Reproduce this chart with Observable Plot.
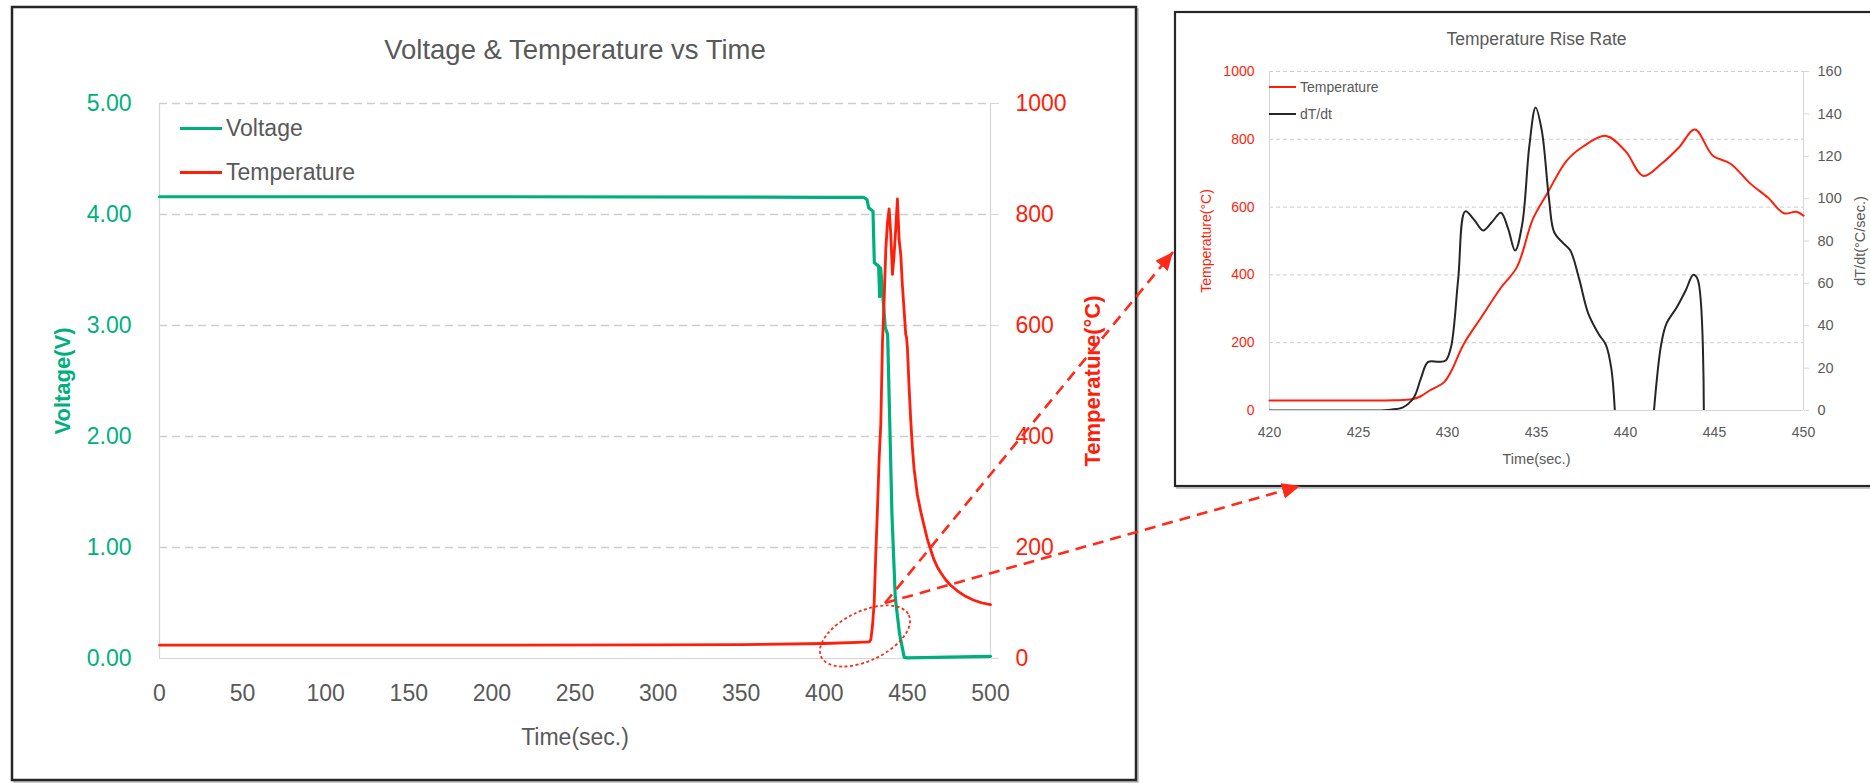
<!DOCTYPE html>
<html><head><meta charset="utf-8">
<script src="https://cdn.jsdelivr.net/npm/d3@7"></script>
<script src="https://cdn.jsdelivr.net/npm/@observablehq/plot@0.6"></script>
<style>
html,body{margin:0;padding:0;background:#fff;}
#root{position:relative;width:1870px;height:783px;overflow:hidden;font-family:"Liberation Sans",Arial,Helvetica,sans-serif;}
#main,#inset{position:absolute;top:0;}
#main{left:0;}
#inset{left:1160px;}
#overlay{position:absolute;left:0;top:0;pointer-events:none;}
.leg{position:absolute;display:flex;align-items:center;color:#595959;white-space:nowrap;}
.sw{display:inline-block;}
</style></head><body>
<div id="root">
  <svg id="frames" width="1870" height="783" style="position:absolute;left:0;top:0">
    <rect x="14" y="9" width="1124" height="773" fill="none" stroke="#b5b5b5" stroke-width="1.5"/>
    <rect x="12" y="7" width="1124" height="773" fill="#fff" stroke="#262626" stroke-width="2.5"/>
    <rect x="1177" y="14" width="720" height="474" fill="none" stroke="#b5b5b5" stroke-width="1.5"/>
    <rect x="1175" y="12" width="720" height="474" fill="#fff" stroke="#262626" stroke-width="2.2"/>
  </svg>
  <div id="main"></div>
  <div id="inset"></div>
  <div class="leg" style="left:180px;top:113px;height:30px;font-size:23px;"><span class="sw" style="width:42px;height:3px;background:#00b07c;margin-right:4px"></span>Voltage</div>
  <div class="leg" style="left:180px;top:157px;height:30px;font-size:23px;"><span class="sw" style="width:42px;height:3px;background:#ff1e0a;margin-right:4px"></span>Temperature</div>
  <div class="leg" style="left:1269px;top:78px;height:18px;font-size:14px;"><span class="sw" style="width:27px;height:2px;background:#ff1e0a;margin-right:4px"></span>Temperature</div>
  <div class="leg" style="left:1269px;top:105px;height:18px;font-size:14px;"><span class="sw" style="width:27px;height:2px;background:#262626;margin-right:4px"></span>dT/dt</div>
  <svg id="overlay" width="1870" height="783">
    <defs>
      <marker id="ah" markerUnits="userSpaceOnUse" markerWidth="20" markerHeight="18" refX="18" refY="8" orient="auto">
        <path d="M0,0 L18,8 L0,16 Z" fill="#ff2a1a"/>
      </marker>
    </defs>
    <ellipse cx="865" cy="636" rx="48.5" ry="24.7" transform="rotate(-25.5 865 636)" fill="none" stroke="#ff2a1a" stroke-width="1.8" stroke-dasharray="3,2.5"/>
    <line x1="885" y1="603" x2="1173" y2="252" stroke="#ff2a1a" stroke-width="2.6" stroke-dasharray="11,7" marker-end="url(#ah)"/>
    <line x1="885" y1="603" x2="1300" y2="486" stroke="#ff2a1a" stroke-width="2.6" stroke-dasharray="11,7" marker-end="url(#ah)"/>
  </svg>
</div>
<script>
// ---------- data ----------
const timeTicks = [0, 50, 100, 150, 200, 250, 300, 350, 400, 450, 500];
const voltTicks = [0, 1, 2, 3, 4, 5];
const tempTicksMain = [0, 200, 400, 600, 800, 1000];

const voltTime = [0, 200, 400, 423.7, 425.7, 426.7, 429.3, 430.1, 432.7, 433.3, 433.9, 436.7, 438.1, 439.3, 440.7, 442.7, 445.3, 448.1, 450, 500];
const voltage  = [4.16, 4.16, 4.155, 4.155, 4.135, 4.06, 4.03, 3.565, 3.535, 3.26, 3.52, 2.98, 2.92, 2.18, 1.30, 0.55, 0.22, 0.01, 0.005, 0.02];

const tempTime = [0, 100, 200, 300, 350, 400, 420, 427, 428, 429, 430, 431, 432, 433, 434, 435, 436, 437, 438, 439, 440, 441, 442, 443, 444, 445, 446, 447, 448, 449, 449.5, 450, 451, 452, 453, 454, 456, 458, 460, 462, 464, 466, 468, 470, 473, 476, 480, 485, 490, 495, 500];
const temperature = [24, 24, 24, 24.5, 25, 27, 29, 30, 34, 59, 100, 190, 270, 360, 423, 570, 645, 737, 785, 810, 765, 692, 727, 775, 828, 755, 728, 672, 628, 584, 578, 560, 490, 430, 380, 342, 295, 265, 240, 215, 196, 178, 165, 155, 142, 132, 122, 112, 105, 100, 97];

const insetTimeTicks = [420, 425, 430, 435, 440, 445, 450];
const insetTempTicks = [0, 200, 400, 600, 800, 1000];
const rateTicks = [0, 20, 40, 60, 80, 100, 120, 140, 160];

const insetTime = [420, 422, 424, 426, 427, 428, 428.5, 429, 429.8, 430.2, 430.9, 431.9, 433, 433.9, 434.8, 435.6, 436.7, 437.6, 438.9, 440, 441, 442, 443, 443.9, 444.9, 445.9, 447, 448, 448.9, 449.6, 450];
const insetTemp = [29.5, 29.5, 29.5, 29.5, 30, 33, 42, 59, 83, 115, 195, 275, 362, 423, 565, 640, 737, 778, 810, 765, 692, 727, 776, 829, 752, 728, 670, 628, 582, 586, 575];

const rateTime = [420, 422, 424, 426, 426.8, 427.5, 428.1, 428.5, 428.9, 429.5, 429.9, 430.2, 430.6, 431.0, 431.5, 432.0, 432.5, 433.0, 433.4, 433.8, 434.2, 434.6, 434.95, 435.3, 435.7, 436.0, 436.5, 436.9, 437.4, 437.9, 438.5, 438.9, 439.2, 439.4, 440.5, 441.6, 442.0, 442.3, 442.9, 443.4, 443.8, 444.05, 444.4];
const rate = [0, 0, 0, 0, 0.4, 1.5, 6, 15, 22.8, 23, 23.6, 30, 62, 94, 90, 85, 89, 93.3, 86, 75.5, 88, 125, 143, 132, 100, 84, 79, 75.5, 62, 46, 36, 31, 20, 0, null, 0, 31, 41, 49, 57, 64, 62, 0];

// ---------- style ----------
const FONT = "'Liberation Sans', Arial, Helvetica, sans-serif";
const GREEN = "#00b07c", RED = "#ff1e0a", GRAY = "#595959", GRID = "#cdcdcd", AXIS = "#d6d6d6", DARK = "#262626";

// secondary axes mapped onto primary scales
const tempPerVolt = 1000 / 5;
const tempPerRate = 1000 / 160;

const voltRows = voltTime.map((t, i) => ({t, y: voltage[i]}));
const tempRows = tempTime.map((t, i) => ({t, y: temperature[i] / tempPerVolt}));
const insetTempRows = insetTime.map((t, i) => ({t, y: insetTemp[i]}));
const rateRows = rateTime.map((t, i) => ({t, y: rate[i] == null ? NaN : rate[i] * tempPerRate}));

const main = Plot.plot({
  width: 1140, height: 783,
  marginLeft: 159, marginRight: 150, marginTop: 103, marginBottom: 125,
  x: {domain: [0, 500]},
  y: {domain: [0, 5]},
  style: {fontFamily: FONT, background: "transparent", overflow: "visible"},
  marks: [
    Plot.gridY([1, 2, 3, 4, 5], {stroke: GRID, strokeOpacity: 1, strokeWidth: 1.3, strokeDasharray: "8,5"}),
    Plot.ruleX([0, 500], {stroke: AXIS, strokeWidth: 1.2}),
    Plot.ruleY([0], {stroke: AXIS, strokeWidth: 1.2}),
    Plot.axisX({ticks: timeTicks, tickSize: 0, tickPadding: 26, fontSize: 23, fill: GRAY, tickFormat: d => String(d), label: null}),
    Plot.axisY({anchor: "left", ticks: voltTicks, tickSize: 0, tickPadding: 28, fontSize: 23, fill: GREEN, tickFormat: d3.format(".2f"), label: null}),
    Plot.axisY({anchor: "right", ticks: tempTicksMain.map(d => d / tempPerVolt), tickSize: 8, tickPadding: 17, fontSize: 23, fill: RED, stroke: AXIS, tickFormat: d => String(Math.round(d * tempPerVolt)), label: null}),
    Plot.line(voltRows, {x: "t", y: "y", stroke: GREEN, strokeWidth: 3.2}),
    Plot.line(tempRows, {x: "t", y: "y", stroke: RED, strokeWidth: 2.8}),
    Plot.text(["Voltage & Temperature vs Time"], {text: d => d, frameAnchor: "top", dy: -53, lineAnchor: "middle", textAnchor: "middle", fontSize: 27.5, fill: GRAY}),
    Plot.text(["Time(sec.)"], {text: d => d, frameAnchor: "bottom", dy: 79, lineAnchor: "middle", textAnchor: "middle", fontSize: 23, fill: GRAY}),
    Plot.text(["Voltage(V)"], {text: d => d, frameAnchor: "left", dx: -97, rotate: -90, lineAnchor: "middle", textAnchor: "middle", fontSize: 22, fontWeight: "bold", fill: GREEN}),
    Plot.text(["Temperature(°C)"], {text: d => d, frameAnchor: "right", dx: 102, rotate: -90, lineAnchor: "middle", textAnchor: "middle", fontSize: 22, fontWeight: "bold", fill: RED})
  ]
});
document.getElementById("main").appendChild(main);

const inset = Plot.plot({
  width: 710, height: 500,
  marginLeft: 109, marginRight: 67, marginTop: 71, marginBottom: 90,
  x: {domain: [420, 450]},
  y: {domain: [0, 1000]},
  style: {fontFamily: FONT, background: "transparent", overflow: "visible"},
  marks: [
    Plot.gridY([200, 400, 600, 800, 1000], {stroke: GRID, strokeOpacity: 1, strokeWidth: 1, strokeDasharray: "4,3"}),
    Plot.ruleX([420, 450], {stroke: AXIS}),
    Plot.ruleY([0], {stroke: AXIS}),
    Plot.axisX({ticks: insetTimeTicks, tickSize: 0, tickPadding: 17, fontSize: 14, fill: GRAY, tickFormat: d => String(d), label: null}),
    Plot.axisY({anchor: "left", ticks: insetTempTicks, tickSize: 0, tickPadding: 15, fontSize: 14, fill: RED, tickFormat: d => String(d), label: null}),
    Plot.axisY({anchor: "right", ticks: rateTicks.map(d => d * tempPerRate), tickSize: 5, tickPadding: 9, fontSize: 14.5, fill: GRAY, stroke: AXIS, tickFormat: d => String(Math.round(d / tempPerRate)), label: null}),
    Plot.line(insetTempRows, {x: "t", y: "y", stroke: RED, strokeWidth: 2, curve: "catmull-rom"}),
    Plot.line(rateRows, {x: "t", y: "y", stroke: DARK, strokeWidth: 2, curve: "catmull-rom", clip: true}),
    Plot.text(["Temperature Rise Rate"], {text: d => d, frameAnchor: "top", dy: -32, lineAnchor: "middle", textAnchor: "middle", fontSize: 17.5, fill: GRAY}),
    Plot.text(["Time(sec.)"], {text: d => d, frameAnchor: "bottom", dy: 49, lineAnchor: "middle", textAnchor: "middle", fontSize: 14.5, fill: GRAY}),
    Plot.text(["Temperature(°C)"], {text: d => d, frameAnchor: "left", dx: -63, rotate: -90, lineAnchor: "middle", textAnchor: "middle", fontSize: 14, fill: RED}),
    Plot.text(["dT/dt(°C/sec.)"], {text: d => d, frameAnchor: "right", dx: 57, rotate: -90, lineAnchor: "middle", textAnchor: "middle", fontSize: 14.5, fill: GRAY})
  ]
});
document.getElementById("inset").appendChild(inset);
</script>
</body></html>
